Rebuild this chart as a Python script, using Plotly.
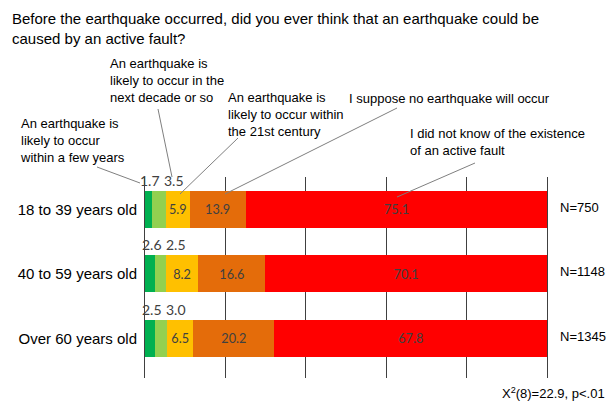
import plotly.graph_objects as go

categories = ["18 to 39 years old", "40 to 59 years old", "Over 60 years old"]
series_names = [
    "An earthquake is likely to occur within a few years",
    "An earthquake is likely to occur in the next decade or so",
    "An earthquake is likely to occur within the 21st century",
    "I suppose no earthquake will occur",
    "I did not know of the existence of an active fault",
]
few_years = [1.7, 2.6, 2.5]
next_decade = [3.5, 2.5, 3.0]
century_21 = [5.9, 8.2, 6.5]
no_quake = [13.9, 16.6, 20.2]
not_know = [75.1, 70.1, 67.8]
n_labels = ["N=750", "N=1148", "N=1345"]
colors = ["#00B050", "#92D050", "#FFC000", "#E46C0A", "#FF0000"]

series = [few_years, next_decade, century_21, no_quake, not_know]

W, H = 616, 405
L, R, T, B = 145, 547, 177, 378


def px(x):
    return (x - L) / (R - L)


def py(y):
    return (B - y) / (B - T)


fig = go.Figure()
for name, vals, col in zip(series_names, series, colors):
    fig.add_trace(go.Bar(
        y=categories, x=vals, orientation="h", name=name,
        marker=dict(color=col, line=dict(width=0)),
        text=[f"{v:.1f}" if v >= 5 else " " for v in vals],
        textposition="inside", insidetextanchor="middle", textangle=0,
        textfont=dict(family="Lato", size=14, color="#404040"),
        hoverinfo="skip",
    ))

annotations = []
for i, cat in enumerate(categories):
    mid = few_years[i] / 2
    annotations.append(dict(x=mid, y=cat, xref="x", yref="y", text=f"{few_years[i]:.1f}",
                            showarrow=False, yshift=29, xshift=2,
                            font=dict(family="Lato", size=14, color="#404040")))
    annotations.append(dict(x=mid, y=cat, xref="x", yref="y", text=f"{next_decade[i]:.1f}",
                            showarrow=False, yshift=29, xshift=26,
                            font=dict(family="Lato", size=14, color="#404040")))
    annotations.append(dict(x=100, y=cat, xref="x", yref="y", text=n_labels[i],
                            showarrow=False, xanchor="left", xshift=11, yshift=2,
                            font=dict(family="Liberation Sans", size=13, color="#000000")))

callouts = [
    ("An earthquake is<br>likely to occur<br>within a few years", 18, 114),
    ("An earthquake is<br>likely to occur in the<br>next decade or so", 108, 54),
    ("An earthquake is<br>likely to occur within<br>the 21st century", 226, 88),
    ("I suppose no earthquake will occur", 347, 89),
    ("I did not know of the existence<br>of an active fault", 408, 124),
]
for text, x0, y0 in callouts:
    annotations.append(dict(x=px(x0), y=py(y0), xref="paper", yref="paper", text=text,
                            showarrow=False, xanchor="left", yanchor="top", align="left",
                            font=dict(family="Liberation Sans", size=13, color="#000000")))

annotations.append(dict(x=px(10), y=py(8), xref="paper", yref="paper",
                        text="Before the earthquake occurred, did you ever think that an earthquake could be<br>caused by an active fault?",
                        showarrow=False, xanchor="left", yanchor="top", align="left",
                        font=dict(family="Liberation Sans", size=15, color="#000000")))

annotations.append(dict(x=px(607), y=py(393), xref="paper", yref="paper",
                        text="X<sup>2</sup>(8)=22.9, p&lt;.01", showarrow=False,
                        xanchor="right", yanchor="middle",
                        font=dict(family="Liberation Sans", size=13, color="#000000")))

leaders = [
    ((97, 167), (140, 183)),
    ((158, 109), (172, 177)),
    ((238, 138), (180, 194)),
    ((397, 108), (225, 194)),
    ((475, 163), (397, 197)),
]
shapes = []
for (x0, y0), (x1, y1) in leaders:
    shapes.append(dict(type="line", xref="paper", yref="paper",
                       x0=px(x0), y0=py(y0), x1=px(x1), y1=py(y1),
                       line=dict(color="#7f7f7f", width=1)))

fig.update_layout(
    barmode="stack",
    bargap=0.43,
    width=W, height=H,
    margin=dict(l=L, r=W - R, t=T, b=H - B, pad=0),
    paper_bgcolor="white", plot_bgcolor="white",
    showlegend=False,
    xaxis=dict(range=[0, 100], dtick=20, showgrid=True, gridcolor="#404040", gridwidth=1,
               showticklabels=False, zeroline=False, showline=False, fixedrange=True),
    yaxis=dict(autorange="reversed", showgrid=False, zeroline=False,
               showline=True, mirror=True, linecolor="#404040", linewidth=1,
               ticks="", ticklabelstandoff=4, fixedrange=True,
               tickfont=dict(family="Liberation Sans", size=15, color="#000000")),
    uniformtext=dict(minsize=12, mode="show"),
    annotations=annotations,
    shapes=shapes,
)

fig.write_html("out.html", config={"displayModeBar": False, "staticPlot": True},
               post_script="document.body.style.margin='0px';document.body.style.overflow='hidden';")
